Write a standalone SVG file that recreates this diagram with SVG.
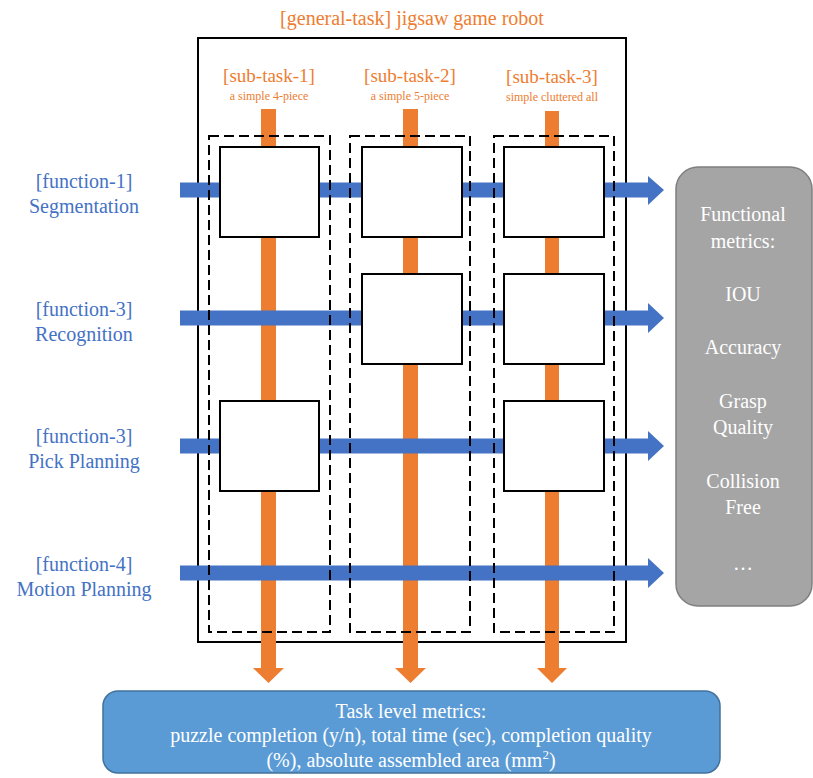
<svg xmlns="http://www.w3.org/2000/svg" width="813" height="778" viewBox="0 0 813 778">
<defs>
<style>
text{font-family:'Liberation Serif','Times New Roman',Times,'DejaVu Serif',serif;text-anchor:middle}
.org{fill:#ED7D31}
.blu{fill:#4472C4}
.wht{fill:#FFFFFF}
.node{fill:#FFFFFF;stroke:#000;stroke-width:2}
.dash{fill:none;stroke:#000;stroke-width:2;stroke-dasharray:10 5}
</style>
</defs>
<rect width="813" height="778" fill="#FFFFFF"/>
<text class="org" x="412" y="25" font-size="20" font-family="Liberation Serif, serif">[general-task] jigsaw game robot</text>
<rect x="198" y="38" width="428" height="604" fill="none" stroke="#000" stroke-width="2"/>
<g id="subtask-labels" font-family="Liberation Serif, serif">
<text class="org" x="269" y="82" font-size="19">[sub-task-1]</text>
<text class="org" x="269" y="100" font-size="12">a simple 4-piece</text>
<text class="org" x="410" y="82" font-size="19">[sub-task-2]</text>
<text class="org" x="410" y="100" font-size="12">a simple 5-piece</text>
<text class="org" x="552" y="83" font-size="19">[sub-task-3]</text>
<text class="org" x="552" y="101" font-size="12">simple cluttered all</text>
</g>
<g id="connectors">
<polygon class="org" points="261,109 276,109 276,668 284,668 268.5,683 253,668 261,668"/>
<polygon class="org" points="403,109 418,109 418,668 426,668 410.5,683 395,668 403,668"/>
<polygon class="org" points="545,111 559,111 559,668 567,668 552,683 537,668 545,668"/>
<polygon class="blu" points="180,182.5 648,182.5 648,176 664,190 648,205 648,197.5 180,197.5"/>
<polygon class="blu" points="180,310.5 648,310.5 648,303 664,318 648,333 648,325.5 180,325.5"/>
<polygon class="blu" points="180,438.5 648,438.5 648,431 664,446 648,461 648,453.5 180,453.5"/>
<polygon class="blu" points="180,565.5 648,565.5 648,558 664,573 648,588 648,580.5 180,580.5"/>
</g>
<g id="subtask-1"><rect class="dash" x="209" y="136" width="121" height="496"/></g>
<g id="subtask-2"><rect class="dash" x="350" y="136" width="120" height="496"/></g>
<g id="subtask-3"><rect class="dash" x="494" y="136" width="120" height="496"/></g>
<g id="n-1-1"><rect class="node" x="220" y="147" width="99" height="90"/></g>
<g id="n-2-1"><rect class="node" x="362" y="147" width="100" height="90"/></g>
<g id="n-3-1"><rect class="node" x="504" y="147" width="100" height="90"/></g>
<g id="n-2-2"><rect class="node" x="362" y="274" width="100" height="90"/></g>
<g id="n-3-2"><rect class="node" x="504" y="274" width="100" height="90"/></g>
<g id="n-1-3"><rect class="node" x="220" y="401" width="99" height="90"/></g>
<g id="n-3-3"><rect class="node" x="504" y="401" width="100" height="90"/></g>
<g id="function-labels" class="blu" font-size="20" font-family="Liberation Serif, serif">
<text x="84" y="188">[function-1]</text>
<text x="84" y="213">Segmentation</text>
<text x="84" y="316">[function-3]</text>
<text x="84" y="341">Recognition</text>
<text x="84" y="443">[function-3]</text>
<text x="84" y="468">Pick Planning</text>
<text x="84" y="571">[function-4]</text>
<text x="84" y="596">Motion Planning</text>
</g>
<g id="functional-metrics">
<rect x="676" y="167" width="136" height="439" rx="22" fill="#A5A5A5" stroke="#7F7F7F" stroke-width="1.5"/>
<g class="wht" font-size="20" font-family="Liberation Serif, serif">
<text x="743" y="221">Functional</text>
<text x="743" y="248">metrics:</text>
<text x="743" y="301">IOU</text>
<text x="743" y="354">Accuracy</text>
<text x="743" y="408">Grasp</text>
<text x="743" y="434">Quality</text>
<text x="743" y="488">Collision</text>
<text x="743" y="514">Free</text>
<text x="743" y="570">…</text>
</g>
</g>
<g id="task-metrics">
<rect x="103" y="691" width="617" height="82" rx="15" fill="#5B9BD5" stroke="#41719C" stroke-width="1.5"/>
<g class="wht" font-size="20" font-family="Liberation Serif, serif">
<text x="411" y="718">Task level metrics:</text>
<text x="411" y="742">puzzle completion (y/n), total time (sec), completion quality</text>
<text x="411" y="767">(%), absolute assembled area (mm<tspan font-size="13" dy="-8">2</tspan><tspan dy="8">)</tspan></text>
</g>
</g>
</svg>
